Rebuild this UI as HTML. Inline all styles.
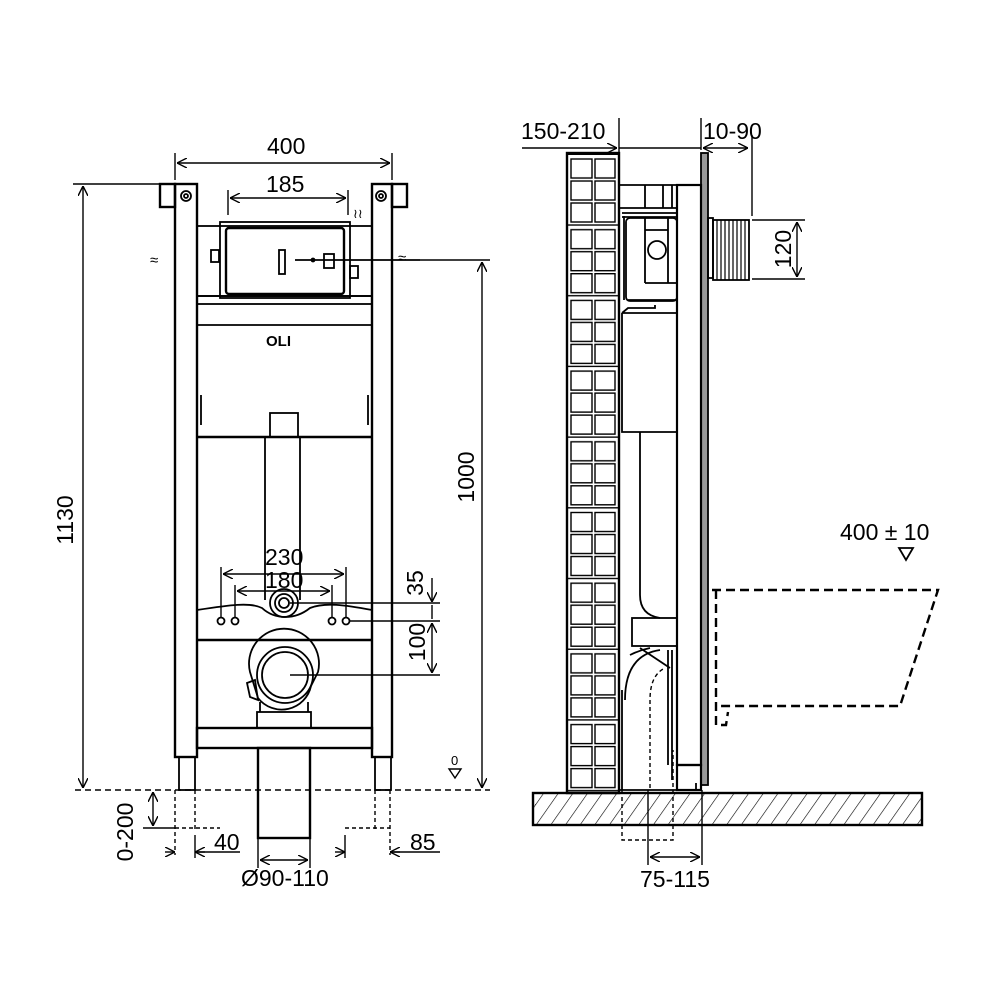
<!DOCTYPE html>
<html><head><style>html,body{margin:0;padding:0;background:#fff}svg{display:block}text{font-family:"Liberation Sans",sans-serif;font-size:23px;fill:#000}</style></head><body>
<svg width="1000" height="1000" viewBox="0 0 1000 1000" xmlns="http://www.w3.org/2000/svg">
<defs>
<marker id="a" viewBox="0 0 10 10" refX="10" refY="5" markerWidth="10" markerHeight="10" orient="auto-start-reverse" markerUnits="userSpaceOnUse"><path d="M0,0 L10,5 L0,10" fill="none" stroke="#000" stroke-width="1.4"/></marker>
<pattern id="tiles" x="567" y="156" width="52" height="70.7" patternUnits="userSpaceOnUse">
<g fill="none" stroke="#000" stroke-width="1.4">
<rect x="4" y="3" width="21" height="19"/><rect x="28" y="3" width="20" height="19"/>
<rect x="4" y="25" width="21" height="19"/><rect x="28" y="25" width="20" height="19"/>
<rect x="4" y="47" width="21" height="19"/><rect x="28" y="47" width="20" height="19"/>
<line x1="0" y1="69" x2="52" y2="69"/></g></pattern>
<pattern id="hatch" width="12" height="12" patternUnits="userSpaceOnUse" patternTransform="rotate(35)"><line x1="0" y1="0" x2="0" y2="12" stroke="#000" stroke-width="1.2"/></pattern>
</defs>
<g fill="none" stroke="#000" stroke-width="1.8">
<rect x="175" y="184" width="22" height="573" stroke-width="2.4"/>
<rect x="372" y="184" width="20" height="573" stroke-width="2.4"/>
<rect x="160" y="184" width="15" height="23" stroke-width="2.4"/>
<rect x="392" y="184" width="15" height="23" stroke-width="2.4"/>
<circle cx="186" cy="196" r="5"/><circle cx="186" cy="196" r="2"/>
<circle cx="381" cy="196" r="5"/><circle cx="381" cy="196" r="2"/>
<rect x="179" y="757" width="16" height="33"/><rect x="375" y="757" width="16" height="33"/>
<rect x="197" y="226" width="175" height="70"/>
<rect x="220" y="222" width="130" height="76"/>
<rect x="226" y="228" width="118" height="66" rx="3" stroke-width="2.4"/>
<rect x="279" y="250" width="6" height="24"/>
<line x1="295" y1="260" x2="420" y2="260"/><circle cx="313" cy="260" r="1.5" fill="#000"/>
<rect x="211" y="250" width="8" height="12"/><rect x="350" y="266" width="8" height="12"/>
<rect x="324" y="254" width="10" height="14"/>
<rect x="197" y="296" width="175" height="8"/>
<line x1="197" y1="325" x2="372" y2="325"/>
<line x1="197" y1="437" x2="372" y2="437" stroke-width="2.4"/>
<path d="M201,395 V425 M368,395 V425"/>
<rect x="270" y="413" width="28" height="24"/>
<path d="M265,437 V600 M300,437 V600"/>
<text x="266" y="346" stroke="none" style="font-size:15px;font-weight:bold">OLI</text>
<text x="150" y="265" stroke="none" style="font-size:15px">≈</text>
<text x="398" y="263" stroke="none" style="font-size:15px">≈</text>
<text x="353" y="218" stroke="none" style="font-size:13px">≀≀</text>
<path d="M197,610 C230,605 250,602 262,608 C275,620 295,620 310,608 C325,602 345,605 372,610" />
<line x1="197" y1="640" x2="372" y2="640" stroke-width="2.4"/>
<circle cx="284" cy="603" r="14"/><circle cx="284" cy="603" r="9"/><circle cx="284" cy="603" r="5"/>
<circle cx="221" cy="621" r="3.5"/><circle cx="235" cy="621" r="3.5"/><circle cx="332" cy="621" r="3.5"/><circle cx="346" cy="621" r="3.5"/>
<path d="M250,672 A35,35 0 1 1 318,672 L311,686 A30,30 0 0 1 258,698 Z"/>
<circle cx="285" cy="675" r="28"/><circle cx="285" cy="675" r="23"/>
<path d="M247,683 L255,680 L258,700 L250,697 Z"/>
<path d="M260,702 V712 M308,702 V712"/>
<rect x="257" y="712" width="54" height="16"/>
<rect x="197" y="728" width="175" height="20" stroke-width="2.4"/>
<rect x="258" y="748" width="52" height="90" stroke-width="2.4"/>
<g stroke-width="1.4">
<line x1="175" y1="180" x2="175" y2="153"/><line x1="392" y1="180" x2="392" y2="153"/>
<line x1="177" y1="163" x2="390" y2="163" marker-start="url(#a)" marker-end="url(#a)"/>
<line x1="228" y1="190" x2="228" y2="215"/><line x1="348" y1="190" x2="348" y2="215"/>
<line x1="230" y1="198" x2="346" y2="198" marker-start="url(#a)" marker-end="url(#a)"/>
<line x1="73" y1="184" x2="160" y2="184"/>
<line x1="83" y1="186" x2="83" y2="788" marker-start="url(#a)" marker-end="url(#a)"/>
<line x1="420" y1="260" x2="490" y2="260"/>
<line x1="482" y1="262" x2="482" y2="788" marker-start="url(#a)" marker-end="url(#a)"/>
<line x1="75" y1="790" x2="490" y2="790" stroke-dasharray="6,4"/>
<path d="M449,769 L461,769 L455,778 Z"/>
<line x1="221" y1="567" x2="221" y2="617"/><line x1="346" y1="567" x2="346" y2="617"/>
<line x1="235" y1="585" x2="235" y2="617"/><line x1="332" y1="585" x2="332" y2="617"/>
<line x1="223" y1="574" x2="344" y2="574" marker-start="url(#a)" marker-end="url(#a)"/>
<line x1="237" y1="591" x2="330" y2="591" marker-start="url(#a)" marker-end="url(#a)"/>
<line x1="290" y1="603" x2="440" y2="603"/><line x1="349" y1="621" x2="440" y2="621"/>
<line x1="290" y1="675" x2="440" y2="675"/>
<line x1="432" y1="578" x2="432" y2="602" marker-end="url(#a)"/>
<line x1="432" y1="605" x2="432" y2="619"/>
<line x1="432" y1="623" x2="432" y2="673" marker-start="url(#a)" marker-end="url(#a)"/>
<path d="M175,790 V855 M195,790 V830 M375,790 V830 M390,790 V855" stroke-dasharray="4,3"/>
<path d="M175,828 H220 M345,828 H390" stroke-dasharray="4,3"/>
<line x1="143" y1="828" x2="175" y2="828"/>
<line x1="153" y1="792" x2="153" y2="826" marker-start="url(#a)" marker-end="url(#a)"/>
<line x1="165" y1="852" x2="175" y2="852" marker-end="url(#a)"/><line x1="205" y1="852" x2="195" y2="852" marker-end="url(#a)"/>
<line x1="195" y1="852" x2="240" y2="852"/><line x1="195" y1="835" x2="195" y2="858"/>
<line x1="345" y1="835" x2="345" y2="858"/>
<line x1="335" y1="852" x2="345" y2="852" marker-end="url(#a)"/><line x1="400" y1="852" x2="390" y2="852" marker-end="url(#a)"/>
<line x1="390" y1="852" x2="440" y2="852"/>
<line x1="258" y1="838" x2="258" y2="868"/><line x1="310" y1="838" x2="310" y2="868"/>
<line x1="260" y1="860" x2="308" y2="860" marker-start="url(#a)" marker-end="url(#a)"/>
</g>
<rect x="533" y="793" width="389" height="32" fill="url(#hatch)" stroke-width="2.4"/>
<rect x="567" y="153" width="52" height="640" fill="url(#tiles)" stroke-width="2.4"/>
<rect x="701" y="153" width="7" height="632" fill="#999" stroke-width="1.8"/>
<rect x="677" y="185" width="24" height="580" stroke-width="2.2"/>
<rect x="677" y="765" width="24" height="25" stroke-width="2.2"/>
<path d="M619,790 H696 V783 M619,185 H677 M619,208 H677 M645,185 V208 M663,185 V208 M672,185 V208"/>
<path d="M622,213 H677 M622,217 H677"/>
<path d="M624,216 V300 M628,300 H677" />
<rect x="626" y="218" width="51" height="83" rx="4"/>
<path d="M645,218 V283 M668,218 V283 M645,283 H677 M645,230 H668"/>
<circle cx="657" cy="250" r="9"/>
<path d="M622,313 H677 M622,313 V432 H677 M622,313 L628,308 H655 V305"/>
<path d="M640,432 V595 Q640,615 660,618 M677,432 V600"/>
<rect x="632" y="618" width="45" height="28"/>
<path d="M640,648 L670,668 M630,655 Q640,650 650,648 M625,700 Q625,655 660,650 M622,790 V690"/>
<path d="M650,788 V700 Q650,675 665,668" stroke-dasharray="4,3" stroke-width="1.4"/>
<path d="M622,790 V840 H673 V750" stroke-dasharray="4,3" stroke-width="1.4"/>
<path d="M668,650 V765 M672,650 V780"/>
<rect x="708" y="218" width="5" height="60"/>
<rect x="713" y="220" width="36" height="60"/>
<path d="M717,220 V280 M721,220 V280 M725,220 V280 M729,220 V280 M733,220 V280 M737,220 V280 M741,220 V280 M745,220 V280" stroke-width="1.2"/>
<g stroke-width="1.4">
<line x1="619" y1="118" x2="619" y2="153"/><line x1="701" y1="118" x2="701" y2="150"/>
<line x1="522" y1="148" x2="617" y2="148" marker-end="url(#a)"/><line x1="619" y1="148" x2="701" y2="148"/>
<line x1="703" y1="148" x2="748" y2="148" marker-start="url(#a)" marker-end="url(#a)"/>
<line x1="752" y1="135" x2="752" y2="216"/>
<line x1="752" y1="220" x2="805" y2="220"/><line x1="752" y1="279" x2="805" y2="279"/>
<line x1="797" y1="222" x2="797" y2="277" marker-start="url(#a)" marker-end="url(#a)"/>
<line x1="648" y1="790" x2="648" y2="865"/><line x1="702" y1="790" x2="702" y2="865"/>
<line x1="650" y1="857" x2="700" y2="857" marker-start="url(#a)" marker-end="url(#a)"/>
</g>
<path d="M899,548 L913,548 L906,560 Z"/>
<path d="M712,590 H938 L900,706 H716 M716,590 V725 H726 L728,712" stroke-dasharray="9,5" stroke-width="2.4"/>
</g>
<g stroke="none">
<text x="267" y="154">400</text>
<text x="266" y="192">185</text>
<text transform="translate(73,520) rotate(-90)" text-anchor="middle">1130</text>
<text transform="translate(474,477) rotate(-90)" text-anchor="middle">1000</text>
<text x="265" y="565">230</text>
<text x="265" y="588">180</text>
<text transform="translate(423,583) rotate(-90)" text-anchor="middle">35</text>
<text transform="translate(425,642) rotate(-90)" text-anchor="middle">100</text>
<text x="451" y="765" style="font-size:13px">0</text>
<text transform="translate(133,832) rotate(-90)" text-anchor="middle">0-200</text>
<text x="214" y="850">40</text>
<text x="410" y="850">85</text>
<text x="241" y="886">Ø90-110</text>
<text x="521" y="139">150-210</text>
<text x="703" y="139">10-90</text>
<text transform="translate(791,249) rotate(-90)" text-anchor="middle">120</text>
<text x="840" y="540">400 ± 10</text>
<text x="640" y="887">75-115</text>
</g>
</svg>
</body></html>
